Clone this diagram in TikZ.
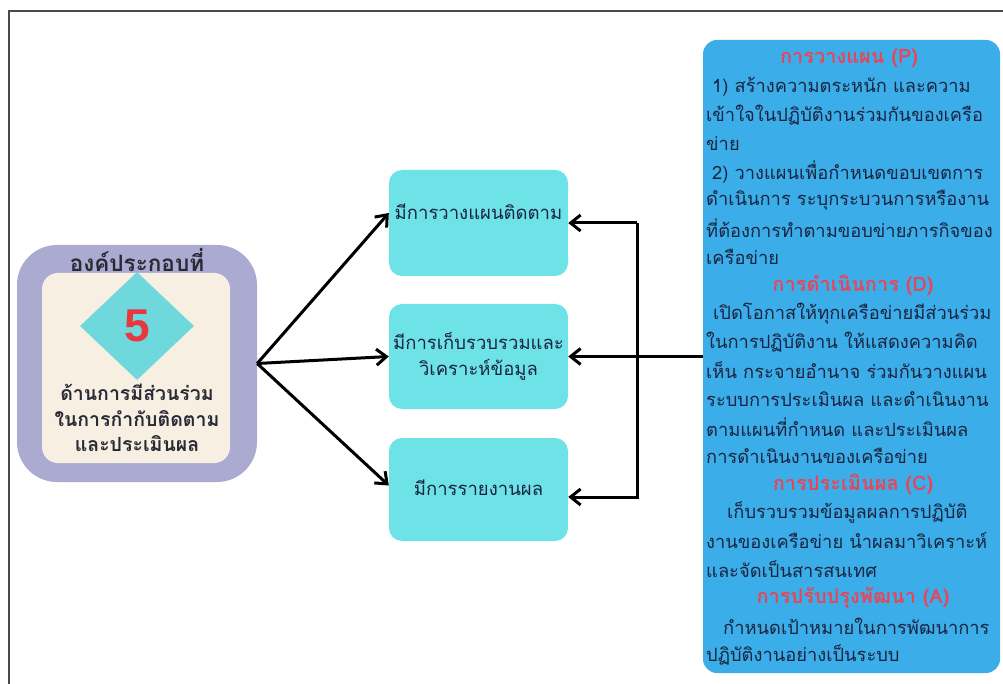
\documentclass[tikz,border=0pt]{standalone}
\usepackage{fontspec}
\setmainfont{Liberation Sans}
\newfontfamily\thai[Script=Thai]{Loma}
\usetikzlibrary{arrows.meta,shapes.geometric}
\definecolor{frameC}{HTML}{4A4A4A}
\definecolor{lav}{HTML}{ABAAD1}
\definecolor{cream}{HTML}{F7F0E2}
\definecolor{dia}{HTML}{6ED8DC}
\definecolor{five}{HTML}{E8383E}
\definecolor{tealbox}{HTML}{6EE3E7}
\definecolor{skyb}{HTML}{3BAEE9}
\definecolor{head}{HTML}{E5475A}
\definecolor{ink}{HTML}{1A2440}
\definecolor{dark}{HTML}{2A2A35}
\tikzset{
  midtext/.style={font=\thai\fontsize{18.5}{26}\selectfont, text=ink},
  midbox/.style={fill=tealbox, rounded corners=13pt, minimum width=179pt, inner sep=0pt,
    midtext, align=center},
  arr/.style={-{Straight Barb[length=10pt,width=16pt]}, line width=3pt, line join=miter},
  bodyline/.style={anchor=west, inner sep=0pt, font=\thai\fontsize{18.3}{22}\selectfont, text=ink},
  headline/.style={anchor=center, inner sep=0pt, font=\thai\bfseries\fontsize{20}{22}\selectfont, text=head},
}
\begin{document}
\begin{tikzpicture}[x=1pt,y=-1pt]
\useasboundingbox (0,0) rectangle (1003,684);
\fill[white] (0,0) rectangle (1003,684);
% frame
\coordinate (fa) at (9,684);
\coordinate (fb) at (9,11);
\coordinate (fc) at (1003,11);
\draw[frameC, line width=1.3pt] (fa) -- (fb) -- (fc);

% left component
\node[fill=lav, rounded corners=40pt, minimum width=240pt, minimum height=237pt, inner sep=0pt] (outer) at (137,363.5) {};
\node[fill=cream, rounded corners=16pt, minimum width=188pt, minimum height=190pt, inner sep=0pt] (inner) at (136,368) {};
\node[diamond, fill=dia, minimum width=114pt, minimum height=108pt, inner sep=0pt] (dm) at (137,326) {};
\node[inner sep=0pt, font=\bfseries\fontsize{46}{50}\selectfont, text=five] (five) at (137,326) {5};
\node[inner sep=0pt, font=\thai\bfseries\fontsize{22.5}{24}\selectfont, text=dark] (title) at (137,260) {องค์ประกอบที่};
\node[inner sep=0pt, align=center, font=\thai\bfseries\fontsize{19.5}{25.5}\selectfont, text=dark] (desc) at (137,418)
  {ด้านการมีส่วนร่วม\\ในการกำกับติดตาม\\และประเมินผล};

% middle boxes
\node[midbox, minimum height=106pt, label={[yshift=11pt, inner sep=0pt, midtext]center:มีการวางแผนติดตาม}] (b1) at (478.5,223) {};
\node[midbox, minimum height=105pt] (b2) at (478.5,356.5) {มีการเก็บรวบรวมและ\\วิเคราะห์ข้อมูล};
\node[midbox, minimum height=103pt] (b3) at (478.5,489.5) {\raisebox{3pt}{มีการรายงานผล}};

% right blue box
\node[fill=skyb, rounded corners=14pt, minimum width=297pt, minimum height=633pt, inner sep=0pt] (blue) at (851.5,356.5) {};

\node[headline] (h1) at (849,58) {การวางแผน (P)};
\node[bodyline] (l1) at (712,86.4) {1) สร้างความตระหนัก และความ};
\node[bodyline] (l2) at (706,114.8) {เข้าใจในปฏิบัติงานร่วมกันของเครือ};
\node[bodyline] (l3) at (706,143.2) {ข่าย};
\node[bodyline] (l4) at (712,171.6) {2) วางแผนเพื่อกำหนดขอบเขตการ};
\node[bodyline] (l5) at (706,200) {ดำเนินการ ระบุกระบวนการหรืองาน};
\node[bodyline] (l6) at (706,228.4) {ที่ต้องการทำตามขอบข่ายภารกิจของ};
\node[bodyline] (l7) at (706,256.8) {เครือข่าย};
\node[headline] (h2) at (853,285.2) {การดำเนินการ (D)};
\node[bodyline] (l8) at (713,313.6) {เปิดโอกาสให้ทุกเครือข่ายมีส่วนร่วม};
\node[bodyline] (l9) at (706,342) {ในการปฏิบัติงาน ให้แสดงความคิด};
\node[bodyline] (l10) at (706,370.4) {เห็น กระจายอำนาจ ร่วมกันวางแผน};
\node[bodyline] (l11) at (706,398.8) {ระบบการประเมินผล และดำเนินงาน};
\node[bodyline] (l12) at (706,427.2) {ตามแผนที่กำหนด และประเมินผล};
\node[bodyline] (l13) at (706,455.6) {การดำเนินงานของเครือข่าย};
\node[headline] (h3) at (853,484) {การประเมินผล (C)};
\node[bodyline] (l14) at (727,512.4) {เก็บรวบรวมข้อมูลผลการปฏิบัติ};
\node[bodyline] (l15) at (706,540.8) {งานของเครือข่าย นำผลมาวิเคราะห์};
\node[bodyline] (l16) at (706,569.2) {และจัดเป็นสารสนเทศ};
\node[headline] (h4) at (853,597.6) {การปรับปรุงพัฒนา (A)};
\node[bodyline] (l17) at (723,626) {กำหนดเป้าหมายในการพัฒนาการ};
\node[bodyline] (l18) at (706,654.4) {ปฏิบัติงานอย่างเป็นระบบ};

% connectors from component
\draw[arr] (outer.east) -- ([yshift=10pt]b1.west);
\draw[arr] (outer.east) -- (b2.west);
\draw[arr] (outer.east) -- ([yshift=4pt]b3.west);

% feedback connectors
\coordinate (fbtop) at (637,223);
\coordinate (fbbot) at (637,497);
\draw[arr] (fbtop) -- (b1.east);
\draw[arr] (fbtop) -- (fbbot) -- (fbbot -| b3.east);
\draw[arr] (blue.west) -- (b2.east);
\end{tikzpicture}
\end{document}
